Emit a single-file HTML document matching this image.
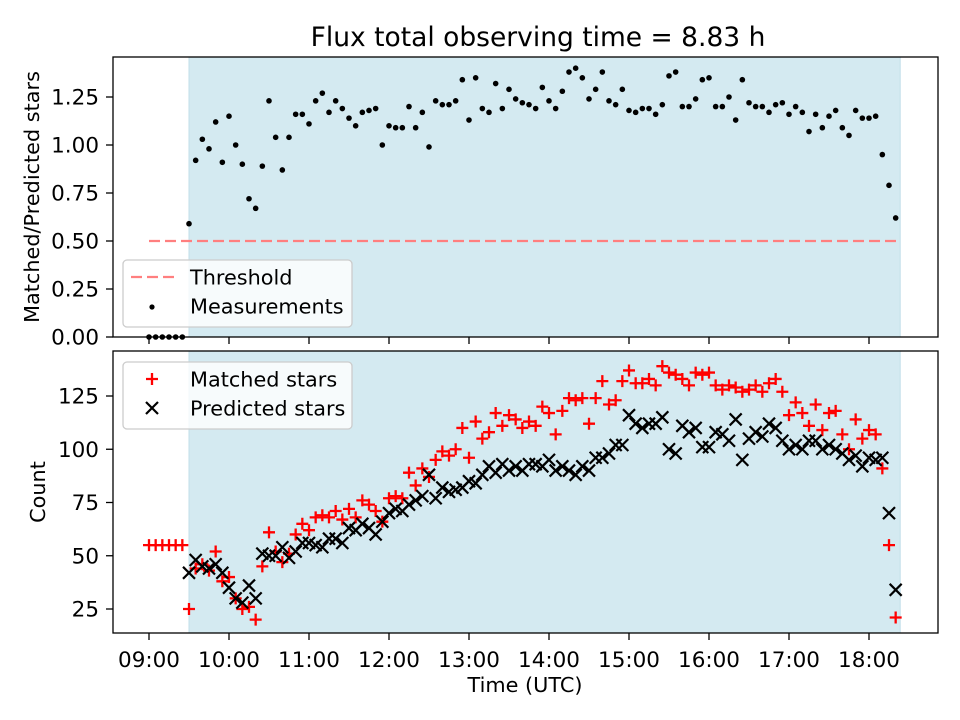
<!DOCTYPE html>
<html><head><meta charset="utf-8"><style>
html,body{margin:0;padding:0;background:#fff}
svg{display:block;font-family:"DejaVu Sans","Liberation Sans",sans-serif}
</style></head><body>
<svg id="chart" width="960" height="720" viewBox="0 0 960 720">
<text x="538" y="46" font-size="26.5" text-anchor="middle" fill="#000">Flux total observing time = 8.83 h</text>
<g id="topPanel"></g>
<g id="botPanel"></g>
<text x="525" y="692" font-size="20.8" text-anchor="middle">Time (UTC)</text>
<text transform="translate(39,197) rotate(-90)" font-size="20.8" text-anchor="middle">Matched/Predicted stars</text>
<text transform="translate(45,492) rotate(-90)" font-size="20.8" text-anchor="middle">Count</text>
</svg>
<script>
const preTimes = [9, 9.0833, 9.1667, 9.25, 9.3333, 9.4167];
const preRatio = [0, 0, 0, 0, 0, 0];
const preMatched = [55, 55, 55, 55, 55, 55];
const startTime = 9.5;
const stepHours = 1/12;
const ratio = [0.59,0.92,1.03,0.98,1.12,0.91,1.15,1.00,0.90,0.72,0.67,0.89,1.23,1.04,0.87,1.04,1.16,1.16,1.11,1.23,1.27,1.17,1.23,1.19,1.14,1.10,1.17,1.18,1.19,1.00,1.10,1.09,1.09,1.20,1.09,1.17,0.99,1.23,1.21,1.21,1.23,1.34,1.13,1.35,1.19,1.17,1.32,1.19,1.29,1.24,1.22,1.21,1.19,1.30,1.23,1.19,1.28,1.38,1.40,1.35,1.24,1.29,1.38,1.23,1.21,1.29,1.18,1.17,1.19,1.19,1.16,1.21,1.36,1.38,1.20,1.20,1.24,1.34,1.35,1.20,1.20,1.25,1.13,1.34,1.22,1.20,1.20,1.17,1.21,1.22,1.16,1.20,1.17,1.07,1.16,1.09,1.15,1.18,1.09,1.05,1.18,1.14,1.14,1.15,0.95,0.79,0.62];
const predicted = [42,48,45,44,46,42,35,30,28,36,30,51,50,50,54,49,52,56,56,55,54,58,58,56,63,62,65,63,60,66,70,72,71,74,76,78,88,77,82,80,81,82,85,84,88,92,89,93,90,92,90,93,93,92,95,90,92,90,88,92,90,96,96,98,102,102,116,112,110,112,112,115,100,98,111,108,110,101,101,108,107,104,114,95,105,108,106,112,110,104,100,102,100,104,104,100,102,100,98,95,97,92,96,95,96,70,34];
const matched = [25,44,46,43,52,38,40,30,25,26,20,45,61,52,47,51,60,65,62,68,69,68,71,67,72,68,76,74,71,66,77,78,77,89,83,91,87,95,99,97,100,110,96,113,105,108,117,111,116,114,110,113,111,120,117,107,118,124,123,124,112,124,132,121,123,132,137,131,131,133,130,139,136,135,133,130,136,135,136,130,128,130,129,127,128,130,127,131,133,127,116,122,117,111,121,109,117,118,107,100,114,105,109,107,91,55,21];
const xTickLabels = ["09:00","10:00","11:00","12:00","13:00","14:00","15:00","16:00","17:00","18:00"];
const xTickHours = [9,10,11,12,13,14,15,16,17,18];
const topTicks = [0,0.25,0.5,0.75,1.0,1.25];
const botTicks = [25,50,75,100,125];
const threshold = 0.5;
const thresholdRange = [9, 18.39];
const shadeRange = [9.5, 18.39];

const NS = "http://www.w3.org/2000/svg";
const X0 = 113, X1 = 938;
const xs = t => 149 + (t - 9) * 80;
const yTop = v => 337 - v * 192;
const yBot = v => 609 - (v - 25) * 2.13;
function mk(tag, attrs, parent) {
  const e = document.createElementNS(NS, tag);
  for (const k in attrs) e.setAttribute(k, attrs[k]);
  parent.appendChild(e);
  return e;
}
const topG = document.getElementById('topPanel');
const botG = document.getElementById('botPanel');
const panels = [[topG, 57, 337], [botG, 351, 633]];
const times = ratio.map((_, i) => startTime + i * stepHours);

panels.forEach(([g, ya, yb]) => {
  let r = mk('rect', {x: xs(shadeRange[0]), y: ya, width: xs(shadeRange[1]) - xs(shadeRange[0]), height: yb - ya, fill: '#d4eaf1', stroke: '#c2dfe9'}, g);
  
  
});

let th = mk('line', {x1: xs(thresholdRange[0]), x2: xs(thresholdRange[1]), y1: yTop(threshold), y2: yTop(threshold), stroke: '#ff7f7f', 'stroke-width': 2.2, 'stroke-dasharray': '11,5'}, topG);



preTimes.concat(times).forEach((t, i) => {
  const v = i < preTimes.length ? preRatio[i] : ratio[i - preTimes.length];
  const c = mk('circle', {cx: xs(t), cy: yTop(v), r: 2.8, fill: '#000'}, topG);
  
  
});

function plus(x, y, g) {
  const p = mk('path', {d: `M${x-6},${y}H${x+6}M${x},${y-6}V${y+6}`, stroke: '#f00', 'stroke-width': 2.3, fill: 'none'}, g);
  
  
}
function cross(x, y, g) {
  const p = mk('path', {d: `M${x-6},${y-6}L${x+6},${y+6}M${x-6},${y+6}L${x+6},${y-6}`, stroke: '#000', 'stroke-width': 2.2, fill: 'none'}, g);
  
  
}
preTimes.forEach((t, i) => plus(xs(t), yBot(preMatched[i]), botG));
times.forEach((t, i) => plus(xs(t), yBot(matched[i]), botG));
times.forEach((t, i) => cross(xs(t), yBot(predicted[i]), botG));

panels.forEach(([g, ya, yb], pi) => {
  const f = mk('rect', {x: X0, y: ya, width: X1 - X0, height: yb - ya, fill: 'none', stroke: '#000', 'stroke-width': 1.3}, g);
  
  
  xTickHours.forEach((h, i) => {
    mk('line', {x1: xs(h), x2: xs(h), y1: yb, y2: yb + 7, stroke: '#000', 'stroke-width': 1.3}, g);
    if (pi === 1) {
      const tx = mk('text', {x: xs(h), y: yb + 34, 'font-size': 21.5, 'text-anchor': 'middle'}, g);
      tx.textContent = xTickLabels[i];
      
      
    }
  });
});
topTicks.forEach(v => {
  mk('line', {x1: X0 - 7, x2: X0, y1: yTop(v), y2: yTop(v), stroke: '#000', 'stroke-width': 1.3}, topG);
  const tx = mk('text', {x: X0 - 14, y: yTop(v) + 7.5, 'font-size': 21.5, 'text-anchor': 'end'}, topG);
  tx.textContent = v.toFixed(2);
  
  
});
botTicks.forEach(v => {
  mk('line', {x1: X0 - 7, x2: X0, y1: yBot(v), y2: yBot(v), stroke: '#000', 'stroke-width': 1.3}, botG);
  const tx = mk('text', {x: X0 - 14, y: yBot(v) + 7.5, 'font-size': 21.5, 'text-anchor': 'end'}, botG);
  tx.textContent = String(v);
  
  
});

function legend(g, y, items, name) {
  const lg = mk('g', {}, g);
  
  
  mk('rect', {x: 123, y: y, width: 229, height: 67, rx: 4, fill: 'rgba(255,255,255,0.8)', stroke: '#ccc', 'stroke-width': 1.3}, lg);
  items.forEach((it, i) => {
    const cy = y + 17 + i * 29;
    it.draw(lg, 152, cy);
    const tx = mk('text', {x: 190, y: cy + 7.5, 'font-size': 20.8}, lg);
    tx.textContent = it.label;
    
    
  });
}
legend(topG, 260, [
  {label: 'Threshold', draw: (g, x, y) => mk('line', {x1: x - 21, x2: x + 22, y1: y, y2: y, stroke: '#ff7f7f', 'stroke-width': 2.2, 'stroke-dasharray': '11,5'}, g)},
  {label: 'Measurements', draw: (g, x, y) => mk('circle', {cx: x, cy: y + 1, r: 2.6, fill: '#000'}, g)}
], 'ratio-legend');
legend(botG, 362, [
  {label: 'Matched stars', draw: (g, x, y) => mk('path', {d: `M${x-6},${y}H${x+6}M${x},${y-6}V${y+6}`, stroke: '#f00', 'stroke-width': 2.3}, g)},
  {label: 'Predicted stars', draw: (g, x, y) => mk('path', {d: `M${x-6},${y-6}L${x+6},${y+6}M${x-6},${y+6}L${x+6},${y-6}`, stroke: '#000', 'stroke-width': 2.2}, g)}
], 'count-legend');
</script>
</body></html>
